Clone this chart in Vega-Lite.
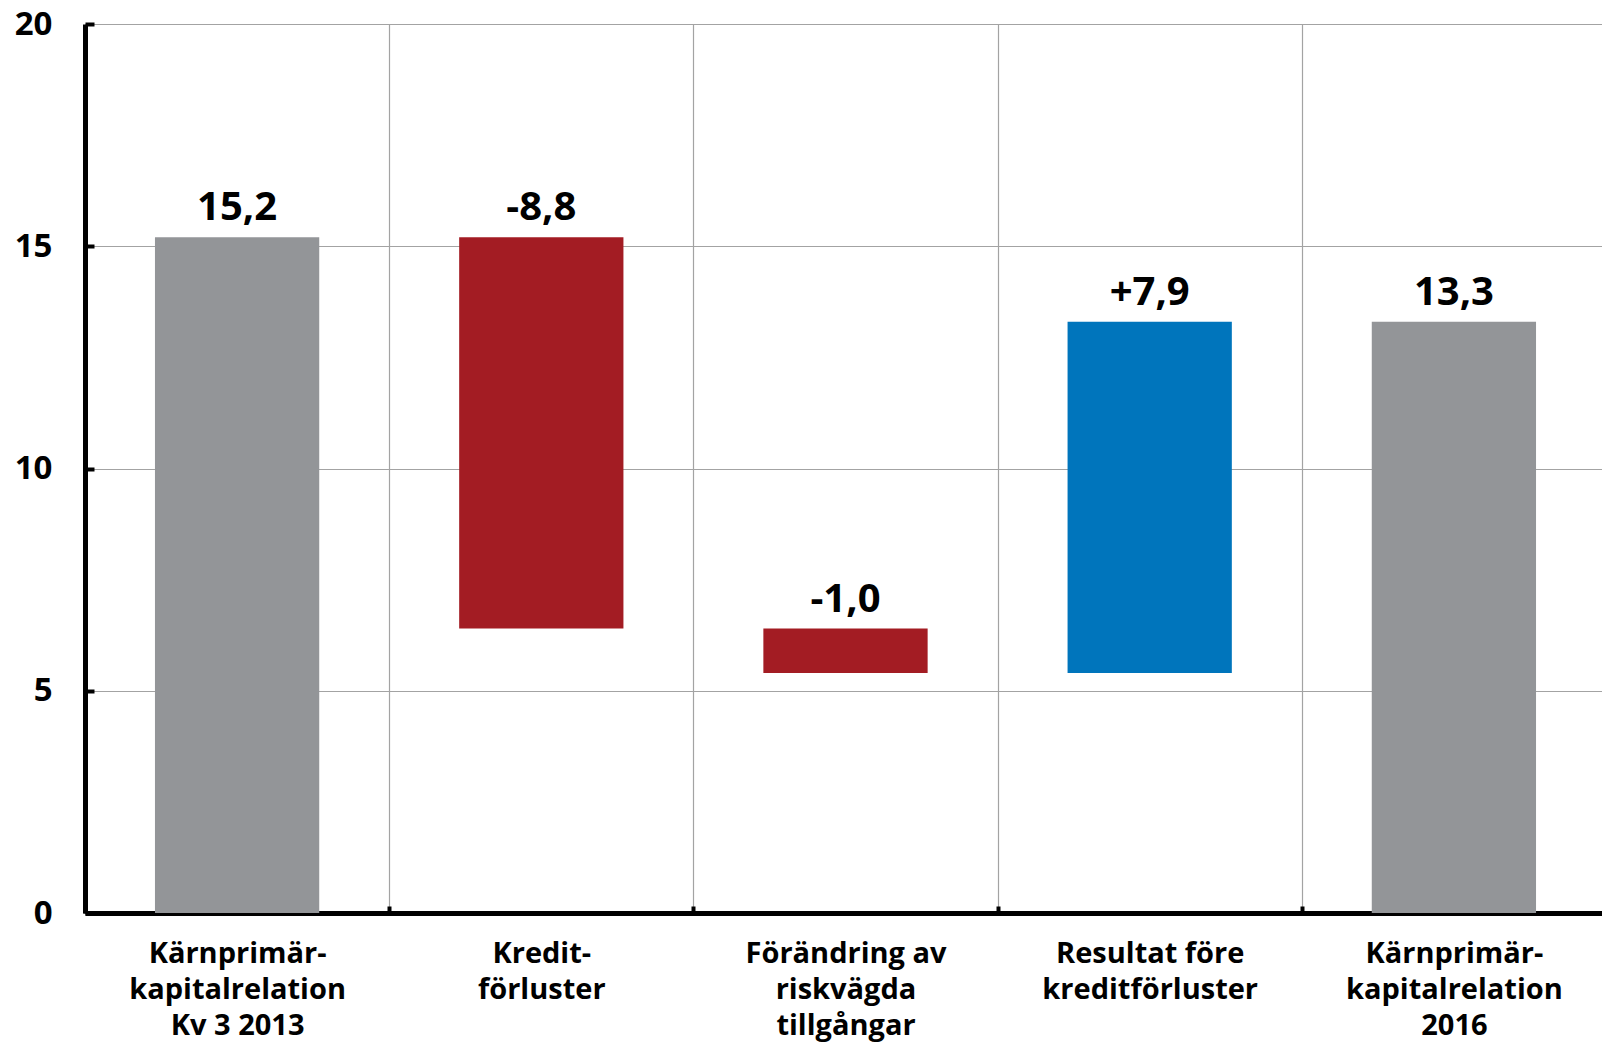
{
  "$schema": "https://vega.github.io/schema/vega-lite/v6.json",
  "width": 1602,
  "height": 1042,
  "autosize": {"type": "fit", "contains": "padding"},
  "padding": {"top": 8, "left": 14, "right": -6, "bottom": 2},
  "background": "white",
  "config": {"view": {"stroke": null}, "font": "Open Sans"},
  "data": {
    "values": [
      {"cat": "Kärnprimär-|kapitalrelation|Kv 3 2013", "start": 0, "end": 15.2, "top": 15.2, "label": "15,2", "typ": "nivå"},
      {"cat": "Kredit-|förluster", "start": 15.2, "end": 6.4, "top": 15.2, "label": "-8,8", "typ": "minskning"},
      {"cat": "Förändring av|riskvägda|tillgångar", "start": 6.4, "end": 5.4, "top": 6.4, "label": "-1,0", "typ": "minskning"},
      {"cat": "Resultat före|kreditförluster", "start": 5.4, "end": 13.3, "top": 13.3, "label": "+7,9", "typ": "ökning"},
      {"cat": "Kärnprimär-|kapitalrelation|2016", "start": 0, "end": 13.3, "top": 13.3, "label": "13,3", "typ": "nivå"}
    ]
  },
  "encoding": {
    "x": {
      "field": "cat",
      "type": "nominal",
      "sort": null,
      "title": null,
      "scale": {"paddingInner": 0, "paddingOuter": 0},
      "axis": {
        "labelExpr": "split(datum.label, '|')",
        "labelAngle": 0,
        "labelLimit": 0,
        "labelFont": "Open Sans",
        "labelFontSize": 29,
        "labelFontWeight": "bold",
        "labelColor": "black",
        "labelLineHeight": 36,
        "labelPadding": 33,
        "labelBaseline": "top",
        "tickBand": "extent",
        "ticks": true,
        "tickSize": -7,
        "tickWidth": 4,
        "tickColor": "black",
        "domain": true,
        "domainColor": "black",
        "domainWidth": 5,
        "grid": true,
        "gridColor": "#a3a3a3",
        "gridWidth": 1.2
      }
    }
  },
  "layer": [
    {
      "mark": {"type": "bar", "width": {"band": 0.54}},
      "encoding": {
        "y": {
          "field": "start",
          "type": "quantitative",
          "title": null,
          "scale": {"domain": [0, 20], "nice": false},
          "axis": {
            "values": [0, 5, 10, 15, 20],
            "labelFont": "Open Sans",
            "labelFontSize": 33,
            "labelFontWeight": "bold",
            "labelColor": "black",
            "labelPadding": 42,
            "ticks": true,
            "tickSize": -9,
            "tickWidth": 4,
            "tickColor": "black",
            "domainColor": "black",
            "domainWidth": 5,
            "gridColor": "#a3a3a3",
            "gridWidth": 1.2
          }
        },
        "y2": {"field": "end"},
        "color": {
          "field": "typ",
          "type": "nominal",
          "scale": {"domain": ["nivå", "minskning", "ökning"], "range": ["#939598", "#a31c23", "#0075bc"]},
          "legend": null
        }
      }
    },
    {
      "mark": {"type": "text", "fontSize": 40, "fontWeight": "bold", "baseline": "bottom", "dy": -9, "color": "black", "font": "Open Sans"},
      "encoding": {
        "y": {"field": "top", "type": "quantitative"},
        "text": {"field": "label"}
      }
    }
  ]
}
